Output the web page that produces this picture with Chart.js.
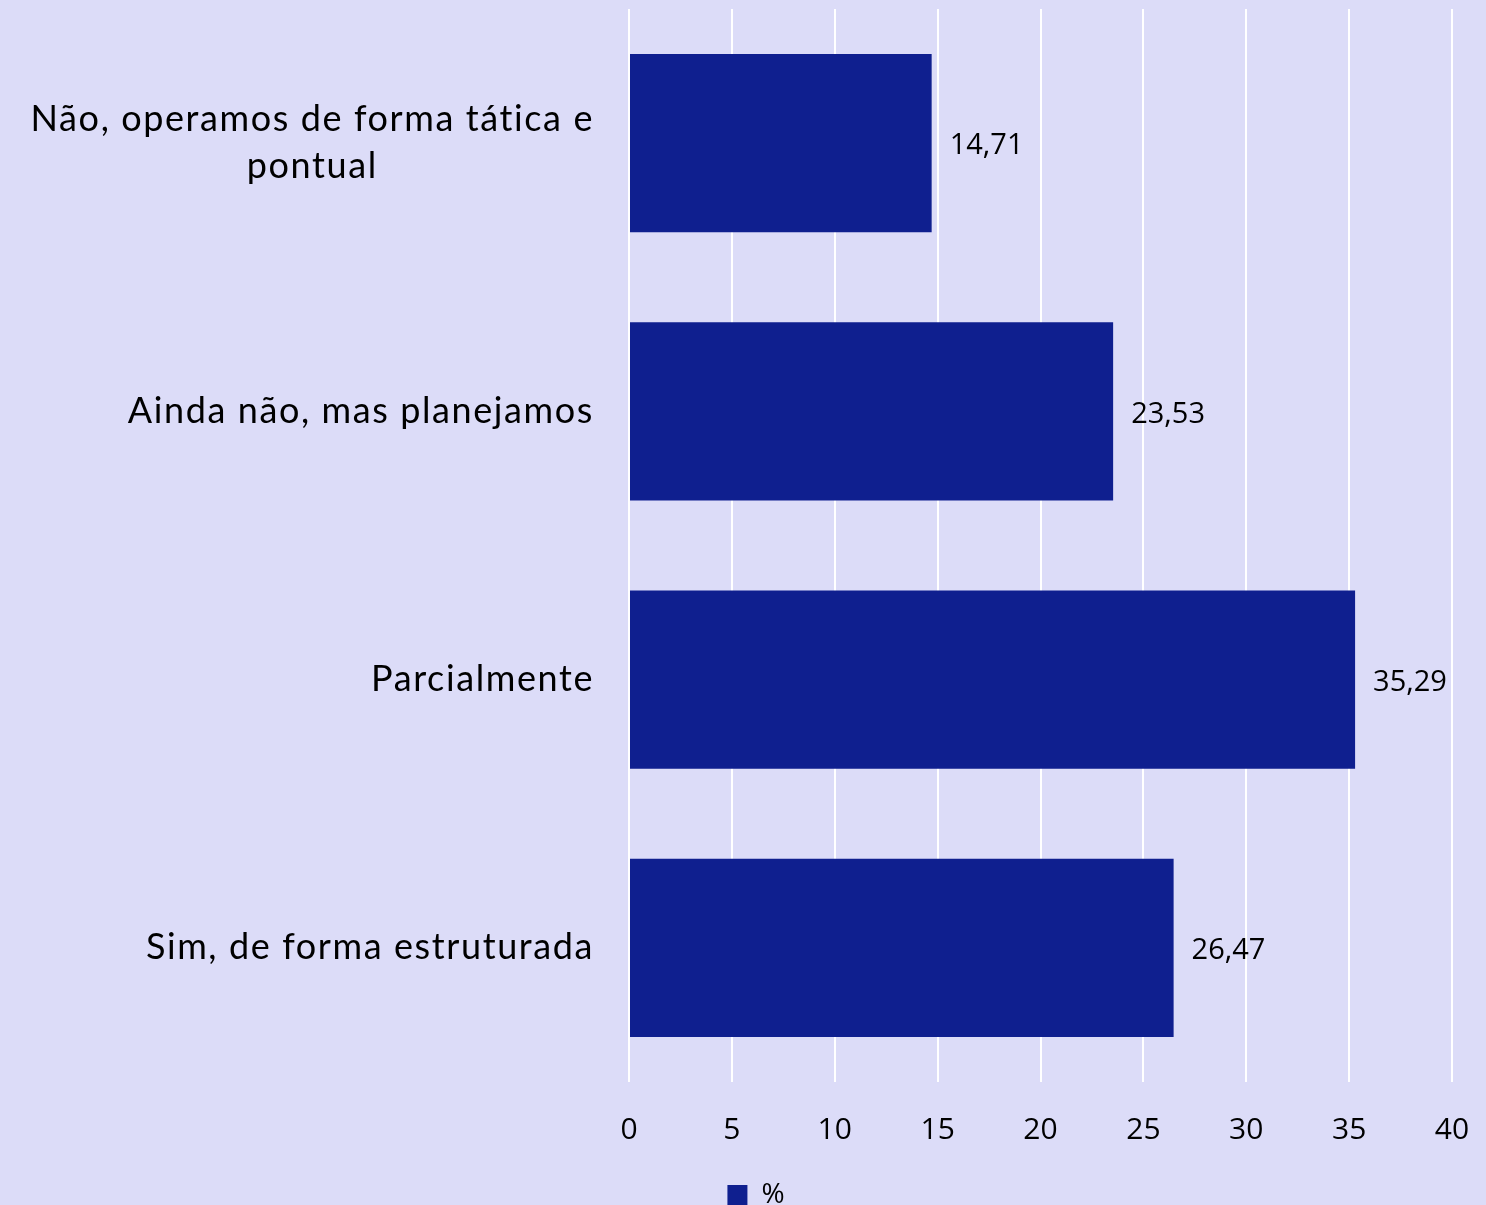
<!DOCTYPE html>
<html>
<head>
<meta charset="utf-8">
<script src="https://cdn.jsdelivr.net/npm/chart.js@4"></script>
<style>
  html, body { margin: 0; padding: 0; background: #DCDCF8; overflow: hidden; }
  #wrap { width: 1486px; height: 1205px; overflow: hidden; }
</style>
</head>
<body>
<div id="wrap"><canvas id="chart" width="1486" height="1219"></canvas></div>
<script>
const categories = [
    ['Não, operamos de forma tática e', 'pontual'],
    ['Ainda não, mas planejamos'],
    ['Parcialmente'],
    ['Sim, de forma estruturada']
];
const percentValues = [14.71, 23.53, 35.29, 26.47];
const seriesName = '%';
const axisMax = 40;
const axisStep = 5;

const barColor = '#0F1F8F';
const labelFont = 'Lato';
const numberFont = '"Open Sans"';

const fmt = v => v.toLocaleString('pt-BR', { minimumFractionDigits: 2, maximumFractionDigits: 2 });

// draws category labels (block right aligned, lines centred) and bar values
const labelsPlugin = {
    id: 'labels',
    afterDatasetsDraw(chart) {
        const ctx = chart.ctx;
        const yScale = chart.scales.y;
        const meta = chart.getDatasetMeta(0);
        ctx.save();

        // category labels
        ctx.font = '36px ' + labelFont;
        ctx.letterSpacing = '1.6px';
        ctx.fillStyle = '#000';
        ctx.textAlign = 'center';
        ctx.textBaseline = 'middle';
        const lineH = 47;
        const rightEdge = chart.chartArea.left - 35;
        categories.forEach((lines, i) => {
            const yc = yScale.getPixelForValue(i);
            const w = Math.max(...lines.map(l => ctx.measureText(l).width));
            const cx = rightEdge - w / 2;
            lines.forEach((l, j) => {
                const y = yc + (j - (lines.length - 1) / 2) * lineH;
                ctx.fillText(l, cx, y);
            });
        });

        // value labels
        ctx.letterSpacing = '0px';
        ctx.font = '29px ' + numberFont;
        ctx.textAlign = 'left';
        meta.data.forEach((bar, i) => {
            ctx.fillText(fmt(percentValues[i]), bar.x + 18, bar.y + 3);
        });
        ctx.restore();
    }
};

new Chart(document.getElementById('chart'), {
    type: 'bar',
    data: {
        labels: categories,
        datasets: [{
            label: seriesName,
            data: percentValues,
            backgroundColor: barColor,
            borderWidth: 0,
            categoryPercentage: 1,
            barPercentage: 0.664
        }]
    },
    options: {
        indexAxis: 'y',
        responsive: false,
        animation: false,
        layout: { padding: { top: 9, right: 34, left: 60, bottom: 0 } },
        scales: {
            x: {
                min: 0,
                max: axisMax,
                ticks: {
                    stepSize: axisStep,
                    padding: 30,
                    color: '#000',
                    font: { family: numberFont, size: 30 }
                },
                grid: { color: '#FFFFFF', lineWidth: 2, drawTicks: false },
                border: { display: false },
                afterFit(scale) { scale.paddingRight = 0; scale.paddingLeft = 0; }
            },
            y: {
                ticks: { display: false },
                grid: { display: false },
                border: { display: false },
                afterFit(scale) { scale.width = 569; }
            }
        },
        plugins: {
            legend: {
                position: 'bottom',
                labels: {
                    color: '#000',
                    boxWidth: 20,
                    boxHeight: 20,
                    padding: 3,
                    font: { family: numberFont, size: 28 }
                }
            },
            tooltip: { enabled: false }
        }
    },
    plugins: [labelsPlugin]
});
</script>
</body>
</html>
